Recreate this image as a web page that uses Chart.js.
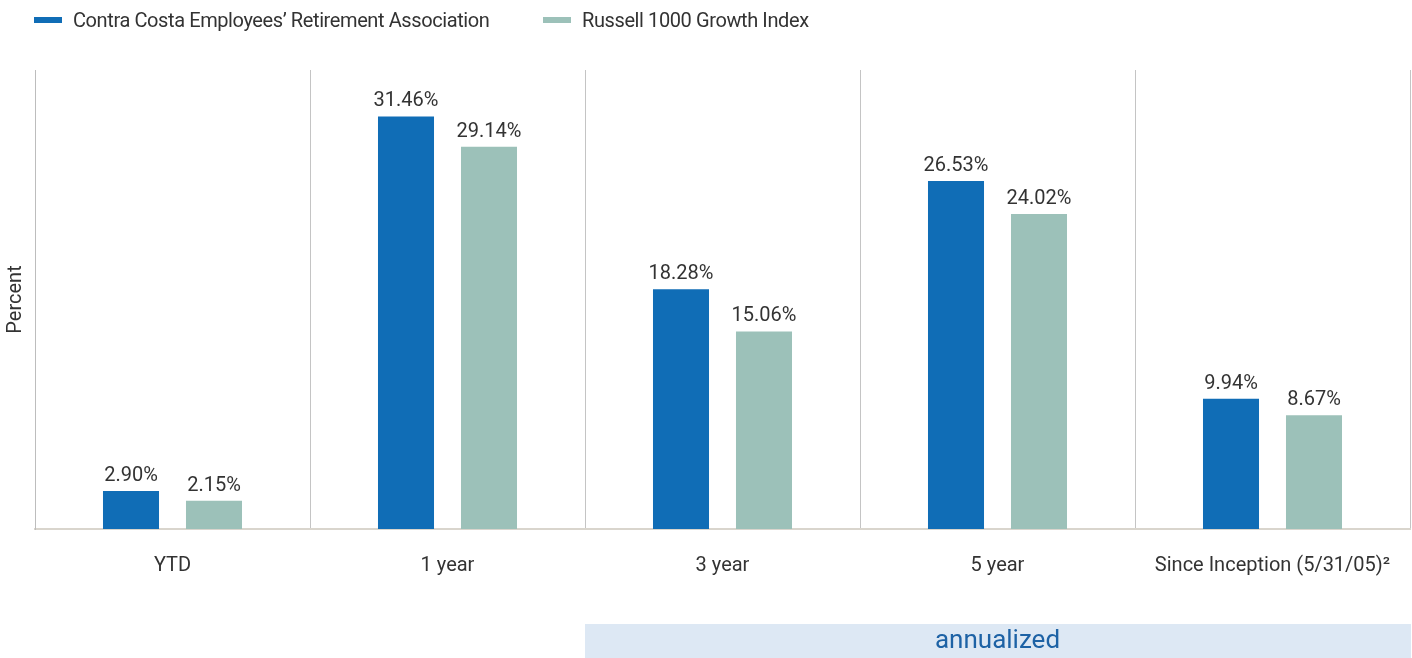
<!DOCTYPE html>
<html>
<head>
<meta charset="utf-8">
<script src="https://cdn.jsdelivr.net/npm/chart.js@4"></script>
<style>
  html, body { margin: 0; padding: 0; background: #fff; }
  #wrap { position: relative; width: 1412px; height: 658px; }
  canvas { position: absolute; left: 0; top: 0; }
  .leg { position: absolute; top: 7px; height: 26px; display: flex; align-items: center;
         font-family: Roboto, 'Liberation Sans', sans-serif;
         font-size: 20px; color: #333; white-space: nowrap; letter-spacing: -0.4px; }
  .leg i { display: inline-block; width: 28px; height: 6px; margin-right: 11px; }
</style>
</head>
<body>
<div id="wrap">
  <canvas id="c" width="1412" height="658"></canvas>
  <div class="leg" id="leg0" style="left:34px"><i></i><span></span></div>
  <div class="leg" id="leg1" style="left:543px"><i></i><span></span></div>
</div>
<script>
const categories = ['YTD', '1 year', '3 year', '5 year', 'Since Inception (5/31/05)\u00B2'];
const seriesNames = ['Contra Costa Employees\u2019 Retirement Association', 'Russell 1000 Growth Index'];
const fundValues = [2.90, 31.46, 18.28, 26.53, 9.94];
const indexValues = [2.15, 29.14, 15.06, 24.02, 8.67];
const seriesColors = ['#106db6', '#9cc1b9'];
const axisTitle = 'Percent';
const bandLabel = 'annualized';

const FONT = "Roboto, 'Liberation Sans', sans-serif";

[0, 1].forEach(i => {
  const el = document.getElementById('leg' + i);
  el.querySelector('i').style.background = seriesColors[i];
  el.querySelector('span').textContent = seriesNames[i];
});

const valueLabels = {
  id: 'valueLabels',
  afterDatasetsDraw(chart) {
    const ctx = chart.ctx;
    ctx.save();
    ctx.font = '20px ' + FONT;
    ctx.fillStyle = '#333';
    ctx.textAlign = 'center';
    ctx.textBaseline = 'alphabetic';
    chart.data.datasets.forEach((ds, di) => {
      chart.getDatasetMeta(di).data.forEach((el, i) => {
        ctx.fillText(ds.data[i].toFixed(2) + '%', el.x, el.y - 10);
      });
    });
    ctx.restore();
  }
};

const annualBand = {
  id: 'annualBand',
  afterDraw(chart) {
    const x = chart.scales.x;
    const half = (x.getPixelForValue(1) - x.getPixelForValue(0)) / 2;
    const left = x.getPixelForValue(2) - half;
    const right = x.getPixelForValue(4) + half;
    const ctx = chart.ctx;
    ctx.save();
    ctx.fillStyle = '#dde8f4';
    ctx.fillRect(left, 624, right - left + 1, 34);
    ctx.fillStyle = '#1d62a5';
    ctx.font = '26px ' + FONT;
    ctx.textAlign = 'center';
    ctx.textBaseline = 'middle';
    ctx.fillText(bandLabel, (left + right) / 2, 641);
    ctx.restore();
  }
};

new Chart(document.getElementById('c'), {
  type: 'bar',
  data: {
    labels: categories,
    datasets: [
      { label: seriesNames[0], data: fundValues, backgroundColor: seriesColors[0] },
      { label: seriesNames[1], data: indexValues, backgroundColor: seriesColors[1] }
    ]
  },
  options: {
    responsive: false,
    animation: false,
    devicePixelRatio: 1,
    layout: { padding: { top: 70, right: 2, bottom: 0, left: 0 } },
    datasets: { bar: { categoryPercentage: 0.6036, barPercentage: 0.675 } },
    plugins: { legend: { display: false }, tooltip: { enabled: false } },
    scales: {
      x: {
        grid: { display: true, offset: true, color: '#c4c4c4', lineWidth: 1, drawTicks: true, tickLength: 21, tickColor: 'rgba(0,0,0,0)' },
        border: { display: true, color: '#d9d5cd', width: 2 },
        ticks: { color: '#333', font: { family: FONT, size: 20 }, padding: 4, maxRotation: 0, autoSkip: false },
        afterFit(scale) { scale.height = 129; }
      },
      y: {
        min: 0, max: 35,
        grid: { display: false },
        border: { display: true, color: '#bdbdbd', width: 1 },
        ticks: { display: false },
        title: { display: true, text: axisTitle, color: '#333', font: { family: FONT, size: 20 }, padding: { top: 4, bottom: 0 } },
        afterFit(scale) { scale.width = 35; }
      }
    }
  },
  plugins: [valueLabels, annualBand]
});
</script>
</body>
</html>
